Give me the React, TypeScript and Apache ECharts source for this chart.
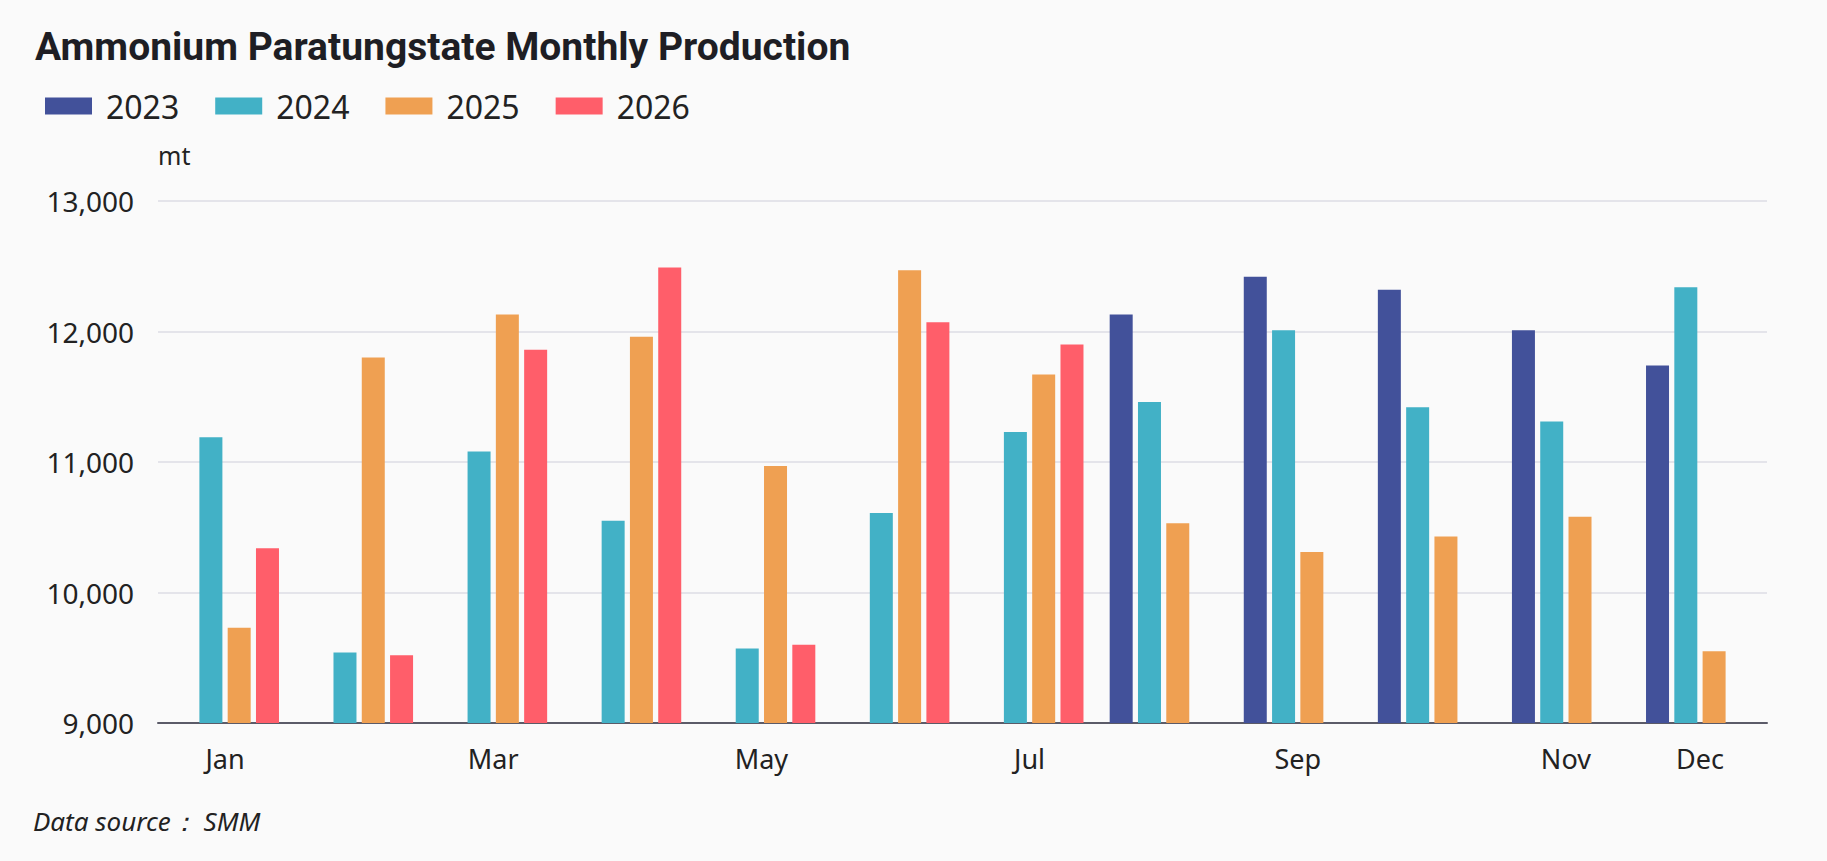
import { useEffect, useRef } from "react";
import * as echarts from "echarts";

const months = ["Jan", "Feb", "Mar", "Apr", "May", "Jun", "Jul", "Aug", "Sep", "Oct", "Nov", "Dec"];
const years = ["2023", "2024", "2025", "2026"];

const values2023 = [null, null, null, null, null, null, null, 12130, 12420, 12320, 12010, 11740];
const values2024 = [11190, 9540, 11080, 10550, 9570, 10610, 11230, 11460, 12010, 11420, 11310, 12340];
const values2025 = [9730, 11800, 12130, 11960, 10970, 12470, 11670, 10530, 10310, 10430, 10580, 9550];
const values2026 = [10340, 9520, 11860, 12490, 9600, 12070, 11900, null, null, null, null, null];

const yTicks = { min: 9000, max: 13000, interval: 1000 };
const shownMonths = ["Jan", "Mar", "May", "Jul", "Sep", "Nov", "Dec"];

const colors = ["#42519a", "#42b1c6", "#efa052", "#ff5e6a"];

export default function App() {
  const chartRef = useRef<HTMLDivElement>(null);

  useEffect(() => {
    if (!chartRef.current) return;
    const chart = echarts.init(chartRef.current, null, { renderer: "svg" });

    const seriesData = [values2023, values2024, values2025, values2026];
    const font = "'Noto Sans', 'Open Sans', sans-serif";

    const option: echarts.EChartsOption = {
      animation: false,
      backgroundColor: "#fafafa",
      color: colors,
      textStyle: { fontFamily: font },
      title: {
        text: "Ammonium Paratungstate Monthly Production",
        left: 30,
        top: 22,
        textStyle: {
          fontFamily: "Roboto, sans-serif",
          fontSize: 39,
          fontWeight: 700,
          color: "#1e1e24",
        },
      },
      legend: {
        left: 40,
        top: 85,
        itemWidth: 47,
        itemHeight: 17,
        itemGap: 36,
        icon: "rect",
        data: years,
        textStyle: {
          fontSize: 32,
          color: "#222",
          padding: [0, 0, 0, 9],
        },
      },
      graphic: [
        {
          type: "text",
          left: 33,
          top: 808,
          style: {
            text: "Data source： SMM",
            fontSize: 26,
            fontStyle: "italic",
            fontFamily: font,
            fill: "#222",
          },
        },
      ],
      grid: {
        left: 158,
        right: 60,
        top: 201,
        bottom: 138,
        containLabel: false,
      },
      xAxis: {
        type: "category",
        data: months,
        axisTick: { show: false },
        axisLine: { lineStyle: { color: "#5b5b68", width: 2 } },
        axisLabel: {
          interval: (index: number) => shownMonths.includes(months[index]),
          fontSize: 27,
          color: "#222",
          margin: 22,
        },
      },
      yAxis: {
        type: "value",
        min: yTicks.min,
        max: yTicks.max,
        interval: yTicks.interval,
        name: "mt",
        nameLocation: "end",
        nameGap: 34,
        nameTextStyle: { fontSize: 25, color: "#222", align: "left" },
        axisLine: { show: false },
        axisTick: { show: false },
        axisLabel: {
          fontSize: 28,
          color: "#222",
          margin: 24,
          formatter: (v: number) => v.toLocaleString("en-US"),
        },
        splitLine: { lineStyle: { color: "#e4e4ea", width: 2 } },
      },
      series: years.map((name, i) => ({
        name,
        type: "bar",
        data: seriesData[i],
        barWidth: 23,
        barGap: "23%",
        itemStyle: { color: colors[i] },
      })),
    };

    chart.setOption(option);
    return () => chart.dispose();
  }, []);

  return (
    <div
      ref={chartRef}
      style={{ position: "fixed", left: 0, top: 0, width: 1827, height: 861 }}
    />
  );
}
